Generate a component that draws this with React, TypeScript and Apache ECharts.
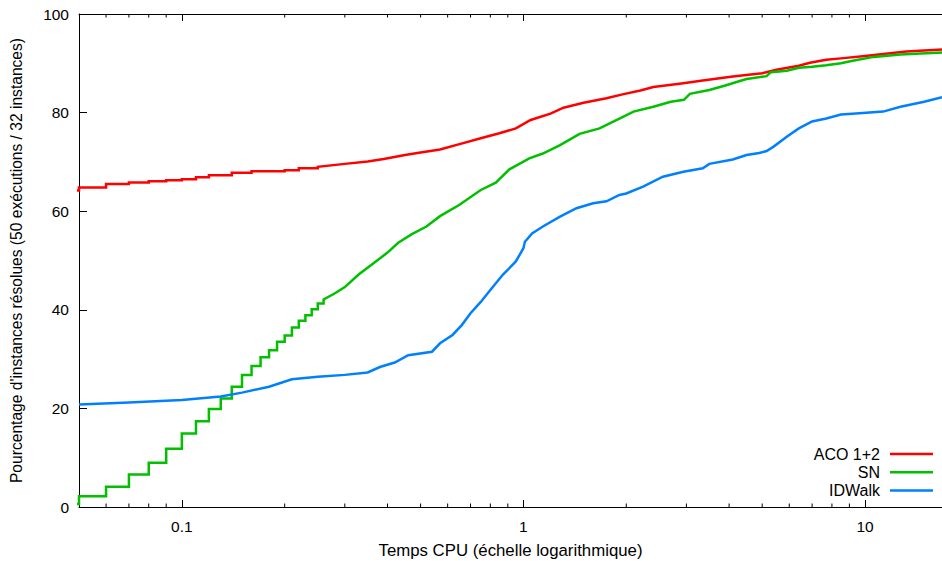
import React, { useEffect, useRef } from "react";
import * as echarts from "echarts";

// Solving-time distributions: [CPU time (s), % of solved instances]
// Short times are recorded at 0.01 s resolution, so these parts are staircases.
const aco12Steps: [number, number][] = [
  [0.04, 64.2], [0.05, 64.8], [0.06, 65.5], [0.07, 65.8], [0.08, 66.1], [0.09, 66.3],
  [0.1, 66.5], [0.11, 66.9], [0.12, 67.3], [0.14, 67.8], [0.16, 68.1], [0.2, 68.3],
  [0.22, 68.7], [0.25, 69.0],
];
const aco12Curve: [number, number][] = [
  [0.3, 69.6], [0.35, 70.1], [0.39, 70.6], [0.45, 71.4],
  [0.5, 71.9], [0.57, 72.5], [0.65, 73.6], [0.75, 74.8], [0.85, 75.8], [0.95, 76.8],
  [1.05, 78.5], [1.2, 79.8], [1.31, 81.0], [1.5, 82.0], [1.75, 82.9], [1.95, 83.7],
  [2.2, 84.5], [2.4, 85.2], [2.9, 85.9], [3.35, 86.5], [4.1, 87.3], [5.0, 88.0],
  [5.5, 88.7], [6.4, 89.5], [6.9, 90.1], [7.7, 90.7], [8.5, 91.0], [10, 91.5],
  [11.3, 91.9], [13.2, 92.4], [16.8, 92.8],
];

const snSteps: [number, number][] = [
  [0.04, 0.6], [0.05, 2.2], [0.06, 4.1], [0.07, 6.6], [0.08, 9.0], [0.09, 11.8],
  [0.1, 14.9], [0.11, 17.4], [0.12, 19.9], [0.13, 22.0], [0.14, 24.4], [0.15, 26.8],
  [0.16, 28.6], [0.17, 30.4], [0.18, 31.8], [0.19, 33.5], [0.2, 34.8], [0.21, 36.4],
  [0.22, 37.8], [0.23, 38.9], [0.24, 40.1], [0.25, 41.3], [0.26, 42.1],
];
const snCurve: [number, number][] = [
  [0.28, 43.3], [0.3, 44.6], [0.33, 47.2], [0.36, 49.2], [0.4, 51.6], [0.43, 53.6],
  [0.47, 55.3], [0.52, 56.9], [0.57, 59.0], [0.65, 61.3], [0.75, 64.3], [0.83, 65.8],
  [0.91, 68.5], [1.04, 70.7], [1.14, 71.7], [1.28, 73.4], [1.46, 75.7], [1.67, 76.8],
  [1.91, 78.8], [2.1, 80.2], [2.4, 81.2], [2.7, 82.2], [2.95, 82.6], [3.07, 83.8],
  [3.5, 84.6], [3.9, 85.5], [4.3, 86.4], [4.5, 86.8], [5.15, 87.4], [5.3, 88.2],
  [5.9, 88.5], [6.4, 89.1], [7.0, 89.3], [7.7, 89.6], [8.5, 90.0], [9.2, 90.5],
  [10.6, 91.3], [12.7, 91.8], [16.8, 92.2],
];

const idWalkCurve: [number, number][] = [
  [0.05, 20.8], [0.07, 21.2], [0.1, 21.7], [0.13, 22.4], [0.15, 23.2], [0.18, 24.4],
  [0.21, 25.9], [0.25, 26.4], [0.3, 26.8], [0.35, 27.3], [0.38, 28.4], [0.42, 29.3],
  [0.46, 30.8], [0.54, 31.5], [0.57, 33.2], [0.62, 34.9], [0.66, 36.9], [0.7, 39.3],
  [0.75, 41.6], [0.8, 44.0], [0.87, 47.1], [0.95, 49.8], [1.0, 52.5], [1.01, 53.8],
  [1.06, 55.5], [1.14, 56.9], [1.28, 58.9], [1.43, 60.6], [1.6, 61.6], [1.75, 62.0],
  [1.91, 63.3], [2.0, 63.6], [2.24, 65.0], [2.56, 67.0], [2.94, 68.0], [3.35, 68.7],
  [3.5, 69.6], [4.1, 70.5], [4.5, 71.4], [4.9, 71.8], [5.15, 72.2], [5.4, 73.1],
  [5.9, 75.1], [6.4, 76.8], [7.0, 78.2], [7.7, 78.8], [8.5, 79.6], [9.4, 79.8],
  [11.3, 80.2], [12.7, 81.2], [14.9, 82.2], [16.8, 83.1],
];

const seriesNames = ["ACO 1+2", "SN", "IDWalk"];
const seriesColors = ["#ff0000", "#00c000", "#0080ff"];

// Decade labels of the logarithmic time axis
const xTickLabels: Record<number, string> = { [-1]: "0.1", 0: "1", 1: "10" };
const minorTicks = [
  0.06, 0.07, 0.08, 0.09,
  0.2, 0.3, 0.4, 0.5, 0.6, 0.7, 0.8, 0.9,
  2, 3, 4, 5, 6, 7, 8, 9,
];

const X_MIN = 0.05;
const X_MAX = 16.8;
const FONT = '"Liberation Sans", Arial, Helvetica, sans-serif';

// Turns a list of step levels into the corner points of a staircase
function staircase(steps: [number, number][]): [number, number][] {
  const out: [number, number][] = [];
  steps.forEach(([x, y], i) => {
    if (i > 0) out.push([x, steps[i - 1][1]]);
    out.push([x, y]);
  });
  return out;
}

export default function App() {
  const ref = useRef<HTMLDivElement>(null);

  useEffect(() => {
    if (!ref.current) return;
    const chart = echarts.init(ref.current, null, { renderer: "svg" });

    const decadeLabel = (v: number) => {
      const l = Math.log10(v);
      const r = Math.round(l);
      return Math.abs(l - r) < 1e-6 && xTickLabels[r] !== undefined ? xTickLabels[r] : "";
    };

    const axisLine = { show: true, lineStyle: { color: "#000", width: 1 } };

    const lines = [
      [...staircase(aco12Steps), ...aco12Curve],
      [...staircase(snSteps), ...snCurve],
      idWalkCurve,
    ];

    chart.setOption({
      animation: false,
      textStyle: { fontFamily: FONT },
      grid: {
        left: 79,
        right: 0,
        top: 14,
        bottom: 54,
        containLabel: false,
        outerBoundsMode: "none",
      },
      legend: {
        data: seriesNames.map((n) => ({ name: n, icon: "rect" })),
        orient: "vertical",
        align: "right",
        right: 9,
        top: 446,
        padding: 0,
        itemWidth: 43,
        itemHeight: 2.5,
        itemGap: 2.3,
        selectedMode: false,
        textStyle: { fontSize: 16, color: "#000", fontFamily: FONT, padding: [0, 5, 0, 0] },
      },
      xAxis: [
        {
          type: "log",
          logBase: 10,
          min: X_MIN,
          max: X_MAX,
          position: "bottom",
          name: "Temps CPU (échelle logarithmique)",
          nameLocation: "middle",
          nameGap: 35,
          nameTextStyle: { fontSize: 16.8, color: "#000", fontFamily: FONT },
          axisLine,
          axisTick: { show: true, inside: true, length: 7, lineStyle: { color: "#000" } },
          axisLabel: { fontSize: 15.5, color: "#000", margin: 11, formatter: decadeLabel, fontFamily: FONT },
          splitLine: { show: false },
          minorTick: { show: false },
        },
        {
          type: "log",
          logBase: 10,
          min: X_MIN,
          max: X_MAX,
          position: "top",
          axisLine,
          axisTick: { show: true, inside: true, length: 7, lineStyle: { color: "#000" } },
          axisLabel: { show: false },
          splitLine: { show: false },
        },
      ],
      yAxis: {
        type: "value",
        min: 0,
        max: 100,
        interval: 20,
        name: "Pourcentage d'instances résolues (50 exécutions / 32 instances)",
        nameLocation: "middle",
        nameGap: 55,
        nameRotate: 90,
        nameTextStyle: { fontSize: 15.6, color: "#000", fontFamily: FONT },
        axisLine,
        axisTick: { show: true, inside: true, length: 8, lineStyle: { color: "#000" } },
        axisLabel: { fontSize: 15.5, color: "#000", margin: 10, fontFamily: FONT },
        splitLine: { show: false },
      },
      series: [
        ...lines.map((data, i) => ({
          type: "line",
          name: seriesNames[i],
          data,
          showSymbol: false,
          symbol: "none",
          clip: true,
          color: seriesColors[i],
          lineStyle: { color: seriesColors[i], width: 2.5, join: "miter" },
          emphasis: { disabled: true },
          z: 3 + i,
        })),
        {
          type: "custom",
          name: "minor-ticks",
          data: minorTicks.map((v) => [v, 0]),
          encode: { x: 0, y: 1 },
          silent: true,
          z: 10,
          renderItem: (params: any, api: any) => {
            const x = api.coord([api.value(0), 0])[0];
            const cs = params.coordSys;
            const top = cs.y;
            const bottom = cs.y + cs.height;
            const style = { stroke: "#000", lineWidth: 1 };
            return {
              type: "group",
              children: [
                { type: "line", shape: { x1: x, y1: bottom, x2: x, y2: bottom - 3.5 }, style },
                { type: "line", shape: { x1: x, y1: top, x2: x, y2: top + 3.5 }, style },
              ],
            };
          },
        },
      ],
    });

    return () => chart.dispose();
  }, []);

  return (
    <div
      ref={ref}
      style={{ position: "fixed", left: 0, top: 0, width: 942, height: 561, background: "#fff" }}
    />
  );
}
